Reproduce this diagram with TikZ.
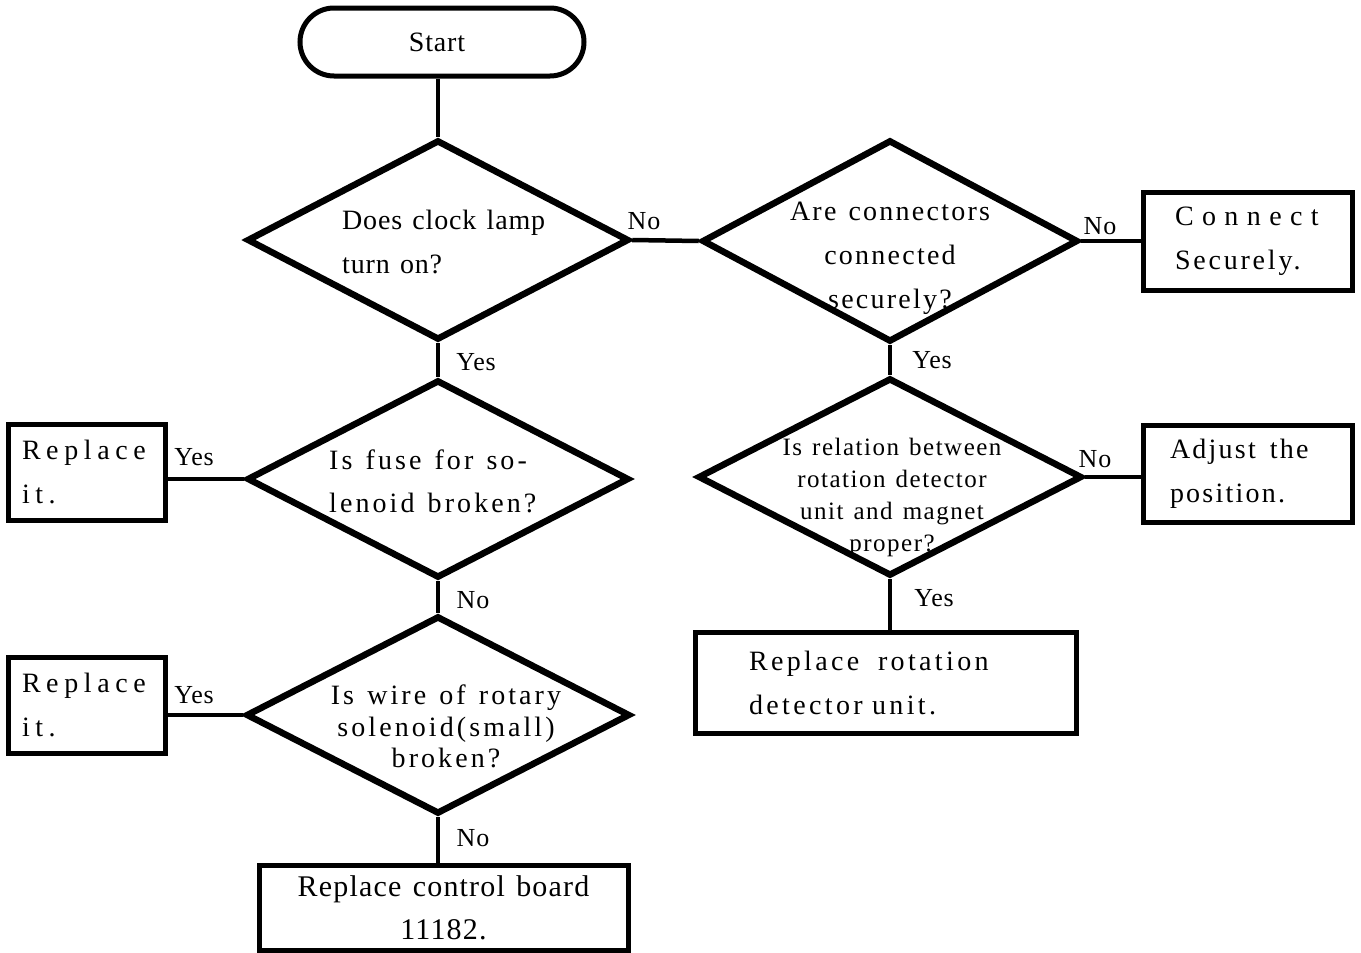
\documentclass[tikz,border=0pt]{standalone}
\usepackage{fontspec}
\setmainfont{Liberation Serif}[LetterSpace=3,WordSpace=1.3]
\usetikzlibrary{shapes.geometric}
\newcommand\myls[1]{\addfontfeature{LetterSpace=#1}}
\begin{document}
\begin{tikzpicture}[x=1pt,y=-1pt]
\tikzset{
 dia/.style={diamond, draw, line width=6.5pt, inner sep=0pt, line join=miter},
 box/.style={rectangle, draw, line width=5pt, inner ysep=0pt},
 conn/.style={line width=4.5pt},
 txt/.style={inner sep=0pt, font=\fontsize{28}{44}\selectfont},
 small/.style={inner sep=0pt, font=\fontsize{25}{32}\selectfont\myls{6}},
 lbl/.style={inner sep=0pt, font=\fontsize{26}{30}\selectfont}
}
\useasboundingbox (0,0) rectangle (1361,953);
\fill[white] (0,0) rectangle (1361,953);

% start
\node[box, txt, rounded corners=34pt, minimum width=284pt, minimum height=68pt] (start) at (442,42) {\hspace*{-10pt}Start};

% diamonds
\node[dia, minimum width=382pt, minimum height=200pt] (d1) at (438,240) {};
\node[dia, minimum width=376pt, minimum height=202pt] (d2) at (890,241) {};
\node[dia, minimum width=382pt, minimum height=198pt] (d3) at (438,479) {};
\node[dia, minimum width=384pt, minimum height=198pt] (d4) at (890,477) {};
\node[dia, minimum width=384pt, minimum height=198pt] (d5) at (438,715) {};

\node[txt, anchor=north west, align=left] (d1t) at (342,210) {Does clock lamp\\turn on?};
\node[txt, anchor=north, align=center, font=\fontsize{28}{44}\selectfont\myls{8}] (d2t) at (890,202) {Are connectors\\connected\\securely?};
\node[txt, anchor=north west, align=left, font=\fontsize{28}{43}\selectfont\myls{11}] (d3t) at (329,450) {Is fuse for so-\\lenoid broken?};
\node[small, anchor=north, align=center] (d4t) at (892,438) {Is relation between\\rotation detector\\unit and magnet\\proper?};
\node[txt, anchor=north, align=center, font=\fontsize{28}{31.5}\selectfont\myls{11}] (d5t) at (446,685) {Is wire of rotary\\solenoid(small)\\broken?};

% boxes
\node[box, txt, align=left, minimum width=209pt, minimum height=98pt, inner xsep=32pt, text width=145pt] (conn) at (1247.5,241)
  {{\myls{30}Connect}\\{\myls{10}Securely.}};
\node[box, txt, align=left, minimum width=209pt, minimum height=97pt, inner xsep=27pt, text width=155pt, font=\fontsize{28}{44}\selectfont\myls{8}] (adj) at (1247.5,473.5)
  {Adjust \,the\\position.};
\node[box, txt, align=left, minimum width=381pt, minimum height=101pt, inner xsep=54pt, text width=273pt, font=\fontsize{28}{44}\selectfont\myls{12}] (rot) at (885.5,682.5)
  {Replace \ rotation\\detector unit.};
\node[box, txt, align=left, minimum width=157pt, minimum height=96pt, inner xsep=14pt, text width=129pt, font=\fontsize{28}{44}\selectfont\myls{20}] (rep1) at (86.5,472)
  {Replace\\it.};
\node[box, txt, align=left, minimum width=157pt, minimum height=96pt, inner xsep=14pt, text width=129pt, font=\fontsize{28}{44}\selectfont\myls{20}] (rep2) at (86.5,705)
  {Replace\\it.};
\node[box, txt, align=center, minimum width=369pt, minimum height=85pt, font=\fontsize{30}{43}\selectfont\myls{4}] (ctrl) at (443.5,907.5)
  {Replace control board\\11182.};

% connectors
\draw[conn] (d1.north) -- (d1.north |- start.south);
\draw[conn] (d1.east) -- (d2.west);
\draw[conn] (d2.east) -- (d2.east -| conn.west);
\draw[conn] (d2.south) -- (d4.north);
\draw[conn] (d4.east) -- (d4.east -| adj.west);
\draw[conn] (d4.south) -- (d4.south |- rot.north);
\draw[conn] (d1.south) -- (d3.north);
\draw[conn] (d3.west) -- (d3.west -| rep1.east);
\draw[conn] (d3.south) -- (d5.north);
\draw[conn] (d5.west) -- (d5.west -| rep2.east);
\draw[conn] (d5.south) -- (d5.south |- ctrl.north);

% labels
\node[lbl] (l1) at (644,221) {No};
\node[lbl] (l2) at (1100,226) {No};
\node[lbl] (l3) at (932,360) {Yes};
\node[lbl] (l4) at (1095,459) {No};
\node[lbl] (l5) at (934,598) {Yes};
\node[lbl] (l6) at (476,362) {Yes};
\node[lbl] (l7) at (194,457) {Yes};
\node[lbl] (l8) at (473,600) {No};
\node[lbl] (l9) at (194,695) {Yes};
\node[lbl] (l10) at (473,838) {No};
\end{tikzpicture}
\end{document}
